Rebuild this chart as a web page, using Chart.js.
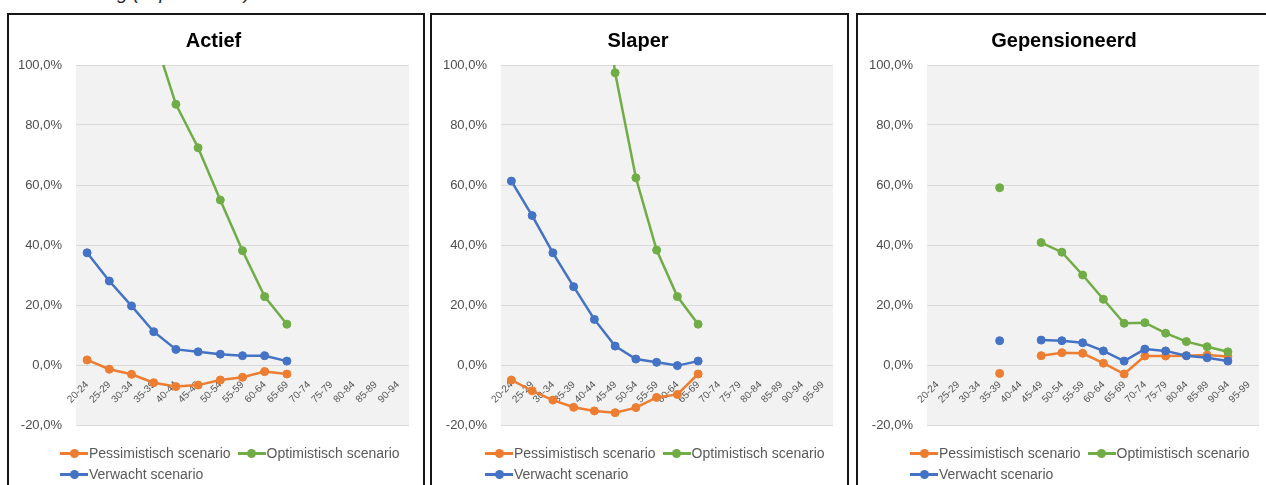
<!DOCTYPE html>
<html lang="nl">
<head>
<meta charset="utf-8">
<title>Scenario's per leeftijdsgroep</title>
<script src="https://cdn.jsdelivr.net/npm/chart.js@4.4.0/dist/chart.umd.min.js"></script>
<style>
  body {
    margin: 0;
    width: 1266px;
    height: 485px;
    overflow: hidden;
    position: relative;
    background: #fff;
    font-family: "Liberation Sans", Arial, sans-serif;
  }
  .caption {
    position: absolute;
    left: 25px;
    top: -18px;
    font-size: 19px;
    font-style: italic;
    color: #222;
    white-space: nowrap;
  }
  .panel {
    position: absolute;
    top: 13px;
    height: 490px;
    box-sizing: border-box;
    border: 2px solid #161616;
    border-bottom: none;
  }
  .panel canvas {
    position: absolute;
    left: 0;
    top: 0;
  }
  .legend {
    position: absolute;
    top: 428px;
    width: 350px;
    display: flex;
    flex-wrap: wrap;
    column-gap: 7px;
    font-size: 14px;
    color: #595959;
  }
  .legend-item {
    display: inline-flex;
    align-items: center;
    height: 20.7px;
    white-space: nowrap;
  }
  .marker {
    position: relative;
    display: inline-block;
    width: 28px;
    height: 20px;
    margin-right: 1px;
  }
  .marker::before {
    content: '';
    position: absolute;
    left: 0;
    right: 0;
    top: 9px;
    height: 2.5px;
    background: var(--c);
  }
  .marker::after {
    content: '';
    position: absolute;
    left: 9.5px;
    top: 5.75px;
    width: 9px;
    height: 9px;
    border-radius: 50%;
    background: var(--c);
  }
</style>
</head>
<body>
<div class="caption">Verandering (in procenten)</div>

<div class="panel" style="left:7px;width:418px;">
  <canvas id="chart-actief" width="414" height="470"></canvas>
  <div class="legend" id="legend-actief" style="left:51px;"></div>
</div>
<div class="panel" style="left:430px;width:419px;">
  <canvas id="chart-slaper" width="414" height="470"></canvas>
  <div class="legend" id="legend-slaper" style="left:53px;"></div>
</div>
<div class="panel" style="left:856px;width:420px;">
  <canvas id="chart-gepensioneerd" width="414" height="470"></canvas>
  <div class="legend" id="legend-gepensioneerd" style="left:52px;"></div>
</div>

<script>
// leeftijdsgroepen
const agesActief = ['20-24', '25-29', '30-34', '35-39', '40-44', '45-49', '50-54', '55-59',
  '60-64', '65-69', '70-74', '75-79', '80-84', '85-89', '90-94'];
const agesLong = ['20-24', '25-29', '30-34', '35-39', '40-44', '45-49', '50-54', '55-59',
  '60-64', '65-69', '70-74', '75-79', '80-84', '85-89', '90-94', '95-99'];

// Actief (%)
const pessActief = [1.7, -1.4, -3.1, -5.9, -7.2, -6.7, -5.0, -4.1, -2.2, -3.0, null, null, null, null, null];
const optActief = [null, null, null, 110, 86.9, 72.4, 55.0, 38.1, 22.8, 13.6, null, null, null, null, null];
const verwActief = [37.4, 28.0, 19.7, 11.1, 5.2, 4.4, 3.6, 3.1, 3.1, 1.3, null, null, null, null, null];

// Slaper (%)
const pessSlaper = [-5.0, -8.6, -11.7, -14.1, -15.3, -15.9, -14.2, -10.8, -9.8, -3.0, null, null, null, null, null, null];
const optSlaper = [null, null, null, null, 150, 97.4, 62.4, 38.3, 22.8, 13.6, null, null, null, null, null, null];
const verwSlaper = [61.3, 49.8, 37.4, 26.1, 15.2, 6.3, 2.0, 0.9, -0.2, 1.3, null, null, null, null, null, null];

// Gepensioneerd (%)
const pessGep = [null, null, null, -2.8, null, 3.1, 4.1, 3.9, 0.6, -3.0, 3.0, 3.0, 3.1, 3.3, 2.8, null];
const optGep = [null, null, null, 59.1, null, 40.8, 37.6, 30.0, 21.9, 13.9, 14.1, 10.6, 7.8, 6.1, 4.4, null];
const verwGep = [null, null, null, 8.1, null, 8.3, 8.1, 7.4, 4.7, 1.3, 5.3, 4.7, 3.1, 2.4, 1.3, null];

const yTicks = [-20, 0, 20, 40, 60, 80, 100];

const seriesNames = ['Pessimistisch scenario', 'Optimistisch scenario', 'Verwacht scenario'];
const seriesColors = ['#ED7D31', '#70AD47', '#4472C4'];

const panels = [
  { id: 'actief', title: 'Actief', labels: agesActief, values: [pessActief, optActief, verwActief], plotLeft: 67, plotRight: 400 },
  { id: 'slaper', title: 'Slaper', labels: agesLong, values: [pessSlaper, optSlaper, verwSlaper], plotLeft: 69, plotRight: 401 },
  { id: 'gepensioneerd', title: 'Gepensioneerd', labels: agesLong, values: [pessGep, optGep, verwGep], plotLeft: 69, plotRight: 401 }
];

const plotBackground = {
  id: 'plotBackground',
  beforeDraw(chart) {
    const { ctx, chartArea } = chart;
    ctx.save();
    ctx.fillStyle = '#f2f2f2';
    ctx.fillRect(chartArea.left, chartArea.top, chartArea.width, chartArea.height);
    ctx.restore();
  }
};

function formatPercent(value) {
  return value.toFixed(1).replace('.', ',') + '%';
}

function buildDatasets(values) {
  // Excel draws later series on top, so the last one gets the lowest order
  return values.map((data, i) => ({
    label: seriesNames[i],
    data,
    borderColor: seriesColors[i],
    backgroundColor: seriesColors[i],
    pointBackgroundColor: seriesColors[i],
    pointBorderColor: seriesColors[i],
    borderWidth: 2.5,
    pointRadius: 4,
    pointBorderWidth: 1,
    tension: 0,
    spanGaps: false,
    order: values.length - 1 - i
  }));
}

function renderLegend(id) {
  const box = document.getElementById(`legend-${id}`);
  seriesNames.forEach((name, i) => {
    const item = document.createElement('span');
    item.className = 'legend-item';
    const marker = document.createElement('span');
    marker.className = 'marker';
    marker.style.setProperty('--c', seriesColors[i]);
    const text = document.createElement('span');
    text.textContent = name;
    item.append(marker, text);
    box.append(item);
  });
}

function createPanelChart(panel) {
  const canvas = document.getElementById(`chart-${panel.id}`);
  new Chart(canvas, {
    type: 'line',
    data: {
      labels: panel.labels,
      datasets: buildDatasets(panel.values)
    },
    options: {
      responsive: false,
      animation: false,
      devicePixelRatio: 1,
      layout: {
        padding: { left: panel.plotLeft - 58, right: canvas.width - panel.plotRight, top: 0, bottom: 60 }
      },
      plugins: {
        legend: { display: false },
        tooltip: { enabled: false },
        title: {
          display: true,
          text: panel.title,
          color: '#000',
          font: { family: '"Liberation Sans", Arial, sans-serif', size: 20, weight: 'bold' },
          padding: { top: 14, bottom: 12 }
        }
      },
      scales: {
        x: {
          type: 'category',
          position: { y: 0 },
          offset: true,
          grid: { display: false, drawTicks: false },
          border: { display: false },
          ticks: {
            autoSkip: false,
            minRotation: 45,
            maxRotation: 45,
            padding: 14,
            color: '#555',
            font: { family: '"Liberation Sans", Arial, sans-serif', size: 10 }
          }
        },
        y: {
          min: yTicks[0],
          max: yTicks[yTicks.length - 1],
          afterBuildTicks: (scale) => {
            scale.ticks = yTicks.map((v) => ({ value: v }));
          },
          afterFit: (scale) => {
            scale.width = 58;
          },
          grid: { color: '#d9d9d9', lineWidth: 1, drawTicks: false },
          border: { display: false },
          ticks: {
            padding: 14,
            color: '#4d4d4d',
            font: { family: '"Liberation Sans", Arial, sans-serif', size: 13 },
            callback: (value) => formatPercent(value)
          }
        }
      }
    },
    plugins: [plotBackground]
  });
}

panels.forEach((panel) => {
  createPanelChart(panel);
  renderLegend(panel.id);
});
</script>
</body>
</html>
